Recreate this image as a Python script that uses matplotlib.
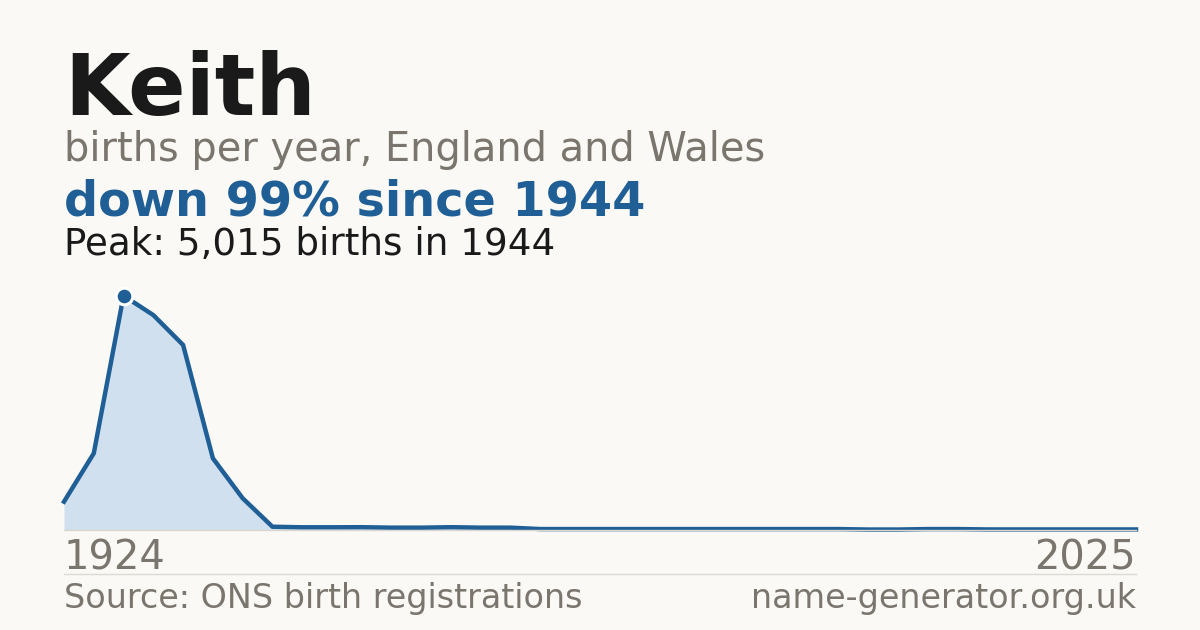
import matplotlib
matplotlib.use('Agg')
import matplotlib.pyplot as plt
import numpy as np

# ---- data ----
name = "Keith"
years = [1924, 1934, 1944, 1954, 1964, 1974, 1984, 1994] + list(range(1997, 2026))
births = [606, 1641, 5015, 4600, 3960, 1535, 680, 70,
          58, 58, 60, 50, 50, 60, 50, 50,
          20, 20, 20, 20, 20, 20, 20, 20, 20, 20, 20,
          10, 10, 20, 20, 12, 12, 12, 12, 12, 12]
peak_year = 1944
peak_value = 5015

bg = '#faf9f5'
blue = '#1f5f96'
fill_c = '#d0e0ef'
grey_txt = '#7a756d'
dark = '#1a1a1a'

W, H = 1200, 630
fig = plt.figure(figsize=(W / 100, H / 100), dpi=100, facecolor=bg)

def fx(px):
    return px / W

def fy(px):
    return (H - px) / H

# plot area: x 64..1136, y 295.7(peak)..530(zero)
ax = fig.add_axes([fx(64), fy(530), fx(1136) - fx(64), (530 - 295.7) / H])
ax.set_facecolor('none')
idx = np.arange(len(years))
ax.fill_between(idx, births, 0, color=fill_c, lw=0, zorder=1)
ax.plot(idx, births, color=blue, lw=3.2, solid_joinstyle='round', zorder=2, clip_on=False)
pk = years.index(peak_year)
ax.plot([idx[pk]], [births[pk]], 'o', ms=12, color=blue, mec='white', mew=2.2, zorder=4, clip_on=False)
ax.axhline(0, color='#d9d6cf', lw=1, zorder=3, clip_on=False)
ax.set_xlim(0, len(years) - 1)
ax.set_ylim(0, peak_value)
ax.axis('off')

# ---- text ----
fig.text(fx(64), fy(115), name, fontsize=61, fontweight='bold', color=dark, va='baseline')
fig.text(fx(64), fy(161), "births per year, England and Wales", fontsize=28.7, color=grey_txt, va='baseline')
drop = int((1 - births[-1] / peak_value) * 100)
fig.text(fx(64), fy(215), f"down {drop}% since {peak_year}", fontsize=34.4, fontweight='bold',
         color=blue, va='baseline')
fig.text(fx(64), fy(255), f"Peak: {peak_value:,} births in {peak_year}", fontsize=26.8, color=dark,
         va='baseline')

fig.text(fx(64), fy(570), str(years[0]), fontsize=28.8, color=grey_txt, va='baseline')
fig.text(fx(1136), fy(570), str(years[-1]), fontsize=28.8, color=grey_txt, va='baseline', ha='right')

fig.add_artist(plt.Line2D([fx(64), fx(1136)], [fy(574.3), fy(574.3)], color='#dddad3', lw=1))

fig.text(fx(64), fy(608), "Source: ONS birth registrations", fontsize=24, color=grey_txt, va='baseline')
fig.text(fx(1136), fy(608), "name-generator.org.uk", fontsize=24, color=grey_txt, va='baseline', ha='right')

fig.savefig('out.png', dpi=100, facecolor=bg)
